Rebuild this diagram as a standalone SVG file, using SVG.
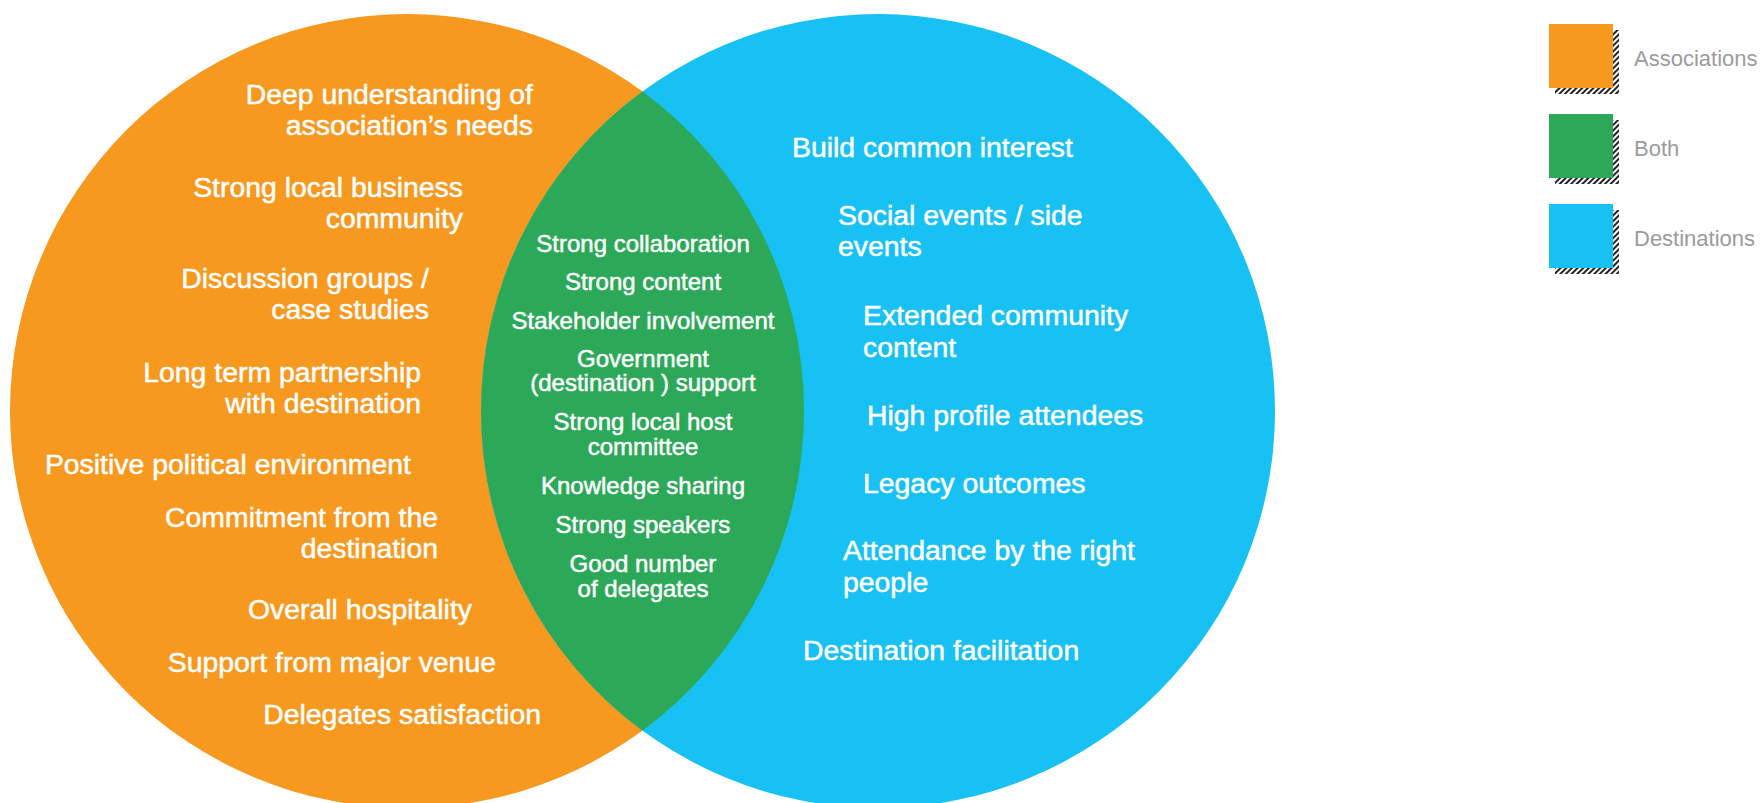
<svg xmlns="http://www.w3.org/2000/svg" width="1761" height="803" viewBox="0 0 1761 803">
  <style>
    .lbl { font-family: "Liberation Sans", Arial, sans-serif; fill: #ffffff; stroke: #ffffff; stroke-width: 0.5px; }
    .big { font-size: 28.4px; }
    .mid { font-size: 24px; }
    .end { text-anchor: end; }
    .ctr { text-anchor: middle; }
    .leg { font-family: "Liberation Sans", Arial, sans-serif; font-size: 22px; fill: #9b9b9b; }
  </style>
  <defs>
    <pattern id="hatch" patternUnits="userSpaceOnUse" width="4" height="4" patternTransform="rotate(45)">
      <rect x="0" y="0" width="4" height="4" fill="#ffffff"/>
      <rect x="0" y="0" width="2" height="4" fill="#222222"/>
    </pattern>
  </defs>
  <rect x="0" y="0" width="1761" height="803" fill="#ffffff"/>

  <g id="associations">
    <circle cx="407" cy="411" r="397" fill="#F7981F"/>
  </g>
  <g id="destinations">
    <circle cx="878" cy="411" r="397" fill="#17C1F3"/>
  </g>
  <g id="both">
    <path d="M 642.5 91.4 A 397 397 0 0 1 642.5 730.6 A 397 397 0 0 1 642.5 91.4 Z" fill="#2BA958"/>
  </g>

  <g id="associations-items" class="lbl big end">
    <g id="a1"><text x="533" y="104">Deep understanding of</text><text x="533" y="135">association’s needs</text></g>
    <g id="a2"><text x="463" y="197">Strong local business</text><text x="463" y="228">community</text></g>
    <g id="a3"><text x="429" y="288">Discussion groups /</text><text x="429" y="319">case studies</text></g>
    <g id="a4"><text x="421" y="382">Long term partnership</text><text x="421" y="413">with destination</text></g>
    <g id="a5"><text x="411" y="474">Positive political environment</text></g>
    <g id="a6"><text x="438" y="527">Commitment from the</text><text x="438" y="558">destination</text></g>
    <g id="a7"><text x="472" y="619">Overall hospitality</text></g>
    <g id="a8"><text x="496" y="672">Support from major venue</text></g>
    <g id="a9"><text x="541" y="724">Delegates satisfaction</text></g>
  </g>

  <g id="both-items" class="lbl mid ctr">
    <g id="b1"><text x="643" y="252">Strong collaboration</text></g>
    <g id="b2"><text x="643" y="290">Strong content</text></g>
    <g id="b3"><text x="643" y="329">Stakeholder involvement</text></g>
    <g id="b4"><text x="643" y="367">Government</text><text x="643" y="391">(destination ) support</text></g>
    <g id="b5"><text x="643" y="430">Strong local host</text><text x="643" y="455">committee</text></g>
    <g id="b6"><text x="643" y="494">Knowledge sharing</text></g>
    <g id="b7"><text x="643" y="533">Strong speakers</text></g>
    <g id="b8"><text x="643" y="572">Good number</text><text x="643" y="597">of delegates</text></g>
  </g>

  <g id="destinations-items" class="lbl big">
    <g id="d1"><text x="792" y="157">Build common interest</text></g>
    <g id="d2"><text x="838" y="225">Social events / side</text><text x="838" y="256">events</text></g>
    <g id="d3"><text x="863" y="325">Extended community</text><text x="863" y="357">content</text></g>
    <g id="d4"><text x="867" y="425">High profile attendees</text></g>
    <g id="d5"><text x="863" y="493">Legacy outcomes</text></g>
    <g id="d6"><text x="843" y="560">Attendance by the right</text><text x="843" y="592">people</text></g>
    <g id="d7"><text x="803" y="660">Destination facilitation</text></g>
  </g>

  <g id="legend">
    <g id="legend-associations">
      <rect x="1555" y="30" width="64" height="64" fill="url(#hatch)"/>
      <rect x="1549" y="24" width="64" height="64" fill="#F7981F"/>
      <text class="leg" x="1634" y="66">Associations</text>
    </g>
    <g id="legend-both">
      <rect x="1555" y="120" width="64" height="64" fill="url(#hatch)"/>
      <rect x="1549" y="114" width="64" height="64" fill="#2BA958"/>
      <text class="leg" x="1634" y="156">Both</text>
    </g>
    <g id="legend-destinations">
      <rect x="1555" y="210" width="64" height="64" fill="url(#hatch)"/>
      <rect x="1549" y="204" width="64" height="64" fill="#17C1F3"/>
      <text class="leg" x="1634" y="246">Destinations</text>
    </g>
  </g>
</svg>
